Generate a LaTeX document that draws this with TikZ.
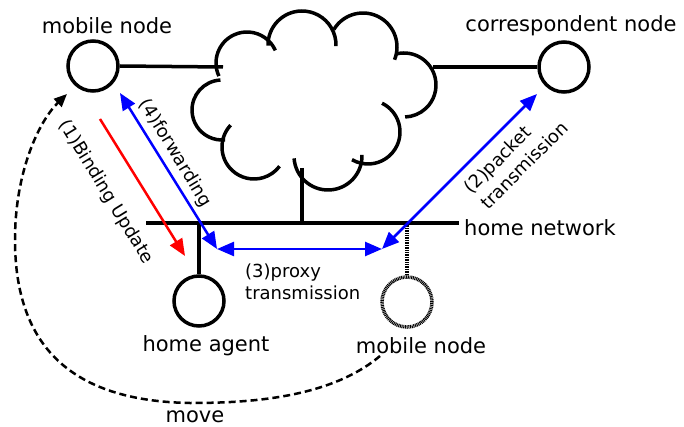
\documentclass[tikz,border=0pt]{standalone}
\usepackage{fontspec}
\setmainfont{DejaVu Sans}
\usetikzlibrary{arrows.meta}
\begin{document}
\begin{tikzpicture}[x=1pt,y=1pt,
  big/.style={font=\fontsize{21}{25}\selectfont, inner sep=0pt},
  small/.style={font=\fontsize{18}{22}\selectfont, inner sep=0pt},
  circ/.style={draw, circle, line width=3.5pt, minimum size=50pt, inner sep=0pt},
  hatch/.style={line width=3.5pt, dash pattern=on 1pt off 0.7pt, draw=black},
  wire/.style={line width=3.5pt},
  barrow/.style={blue, line width=2.5pt, {Triangle[length=17pt,width=14pt]}-{Triangle[length=17pt,width=14pt]}},
  rarrow/.style={red, line width=2.5pt, -{Triangle[length=17pt,width=14pt]}},
  marrow/.style={line width=2.5pt, dash pattern=on 7pt off 4pt, -{Triangle[length=13pt,width=11pt]}},
  cloudarc/.style={line width=3.5pt}
]
\useasboundingbox (0,0) rectangle (684,-427);

% nodes
\node[circ] (mn) at (93,-66) {};
\node[big] (mnl) at (107,-26) {mobile node};
\node[circ] (cn) at (564,-67) {};
\node[big] (cnl) at (571,-26) {correspondent node};
\node[circ] (ha) at (199,-301) {};
\node[big] (hal) at (206,-346) {home agent};
\node[circ, draw=none] (mh) at (407,-302) {};
\draw[hatch] (mh) circle[radius=25pt];
\node[big] (mhl) at (421,-346) {mobile node};

% cloud
\draw[cloudarc] (247,-63) ++(205:31) arc[start angle=205, end angle=24, radius=31];
\draw[cloudarc] (302,-45) ++(181:34) arc[start angle=181, end angle=-2, radius=34];
\draw[cloudarc] (363,-47) ++(149:34) arc[start angle=149, end angle=-22, radius=34];
\draw[cloudarc] (404,-85) ++(103:32) arc[start angle=103, end angle=-88, radius=32];
\draw[cloudarc] (368,-132) ++(64:32) arc[start angle=64, end angle=-120, radius=32];
\draw[cloudarc] (328,-156) ++(2:34) arc[start angle=2, end angle=-176, radius=34];
\draw[cloudarc] (254,-147) ++(137:32) arc[start angle=137, end angle=323, radius=32];
\draw[cloudarc] (222,-110) ++(93:30) arc[start angle=93, end angle=276, radius=30];

% wires
\coordinate (cloudL) at (223,-67);
\coordinate (cloudR) at (433,-67);
\coordinate (trunkT) at (302,-168);
\coordinate (hnL) at (146,-223);
\coordinate (hnR) at (459,-223);
\coordinate (hnT) at (302,-223);
\coordinate (haT) at (199,-223);
\coordinate (mhT) at (407,-223);
\draw[wire] (mn.east) -- (cloudL);
\draw[wire] (cloudR) -- (cn.west);
\draw[wire] (trunkT) -- (hnT);
\draw[wire] (hnL) -- (hnR);
\draw[wire] (haT) -- (ha.north);
\draw[hatch] (mhT) -- (mh.north);
\node[big, anchor=west] (hnl) at (464,-228) {home network};

% arrows
\coordinate (A) at (217,-249);
\coordinate (B) at (382,-249);
\coordinate (mnT) at (120,-93);
\coordinate (cnT) at (537,-94);
\coordinate (rS) at (100,-119);
\coordinate (rE) at (185,-256);
\draw[rarrow] (rS) -- (rE);
\draw[barrow] (A) -- (mnT);
\draw[barrow] (A) -- (B);
\draw[barrow] (B) -- (cnT);

% move
\coordinate (mvS) at (380,-356);
\coordinate (mvE) at (67,-94);
\draw[marrow] (mvS) .. controls (330,-398) and (250,-403) .. (190,-403)
  .. controls (70,-401) and (15,-345) .. (15,-240)
  .. controls (15,-170) and (40,-120) .. (mvE);

% labels
\node[small, rotate=-58.5] (l1) at (106,-192) {(1)Binding Update};
\node[small, rotate=-58.5] (l4) at (175,-153) {(4)forwarding};
\node[small, rotate=45, align=left, font=\fontsize{18}{23}\selectfont] (l2) at (516,-157) {(2)packet\\transmission};
\node[small, anchor=west, align=left] (l3) at (245,-282) {(3)proxy\\transmission};
\node[big] (lmv) at (195,-417) {move};
\end{tikzpicture}
\end{document}
